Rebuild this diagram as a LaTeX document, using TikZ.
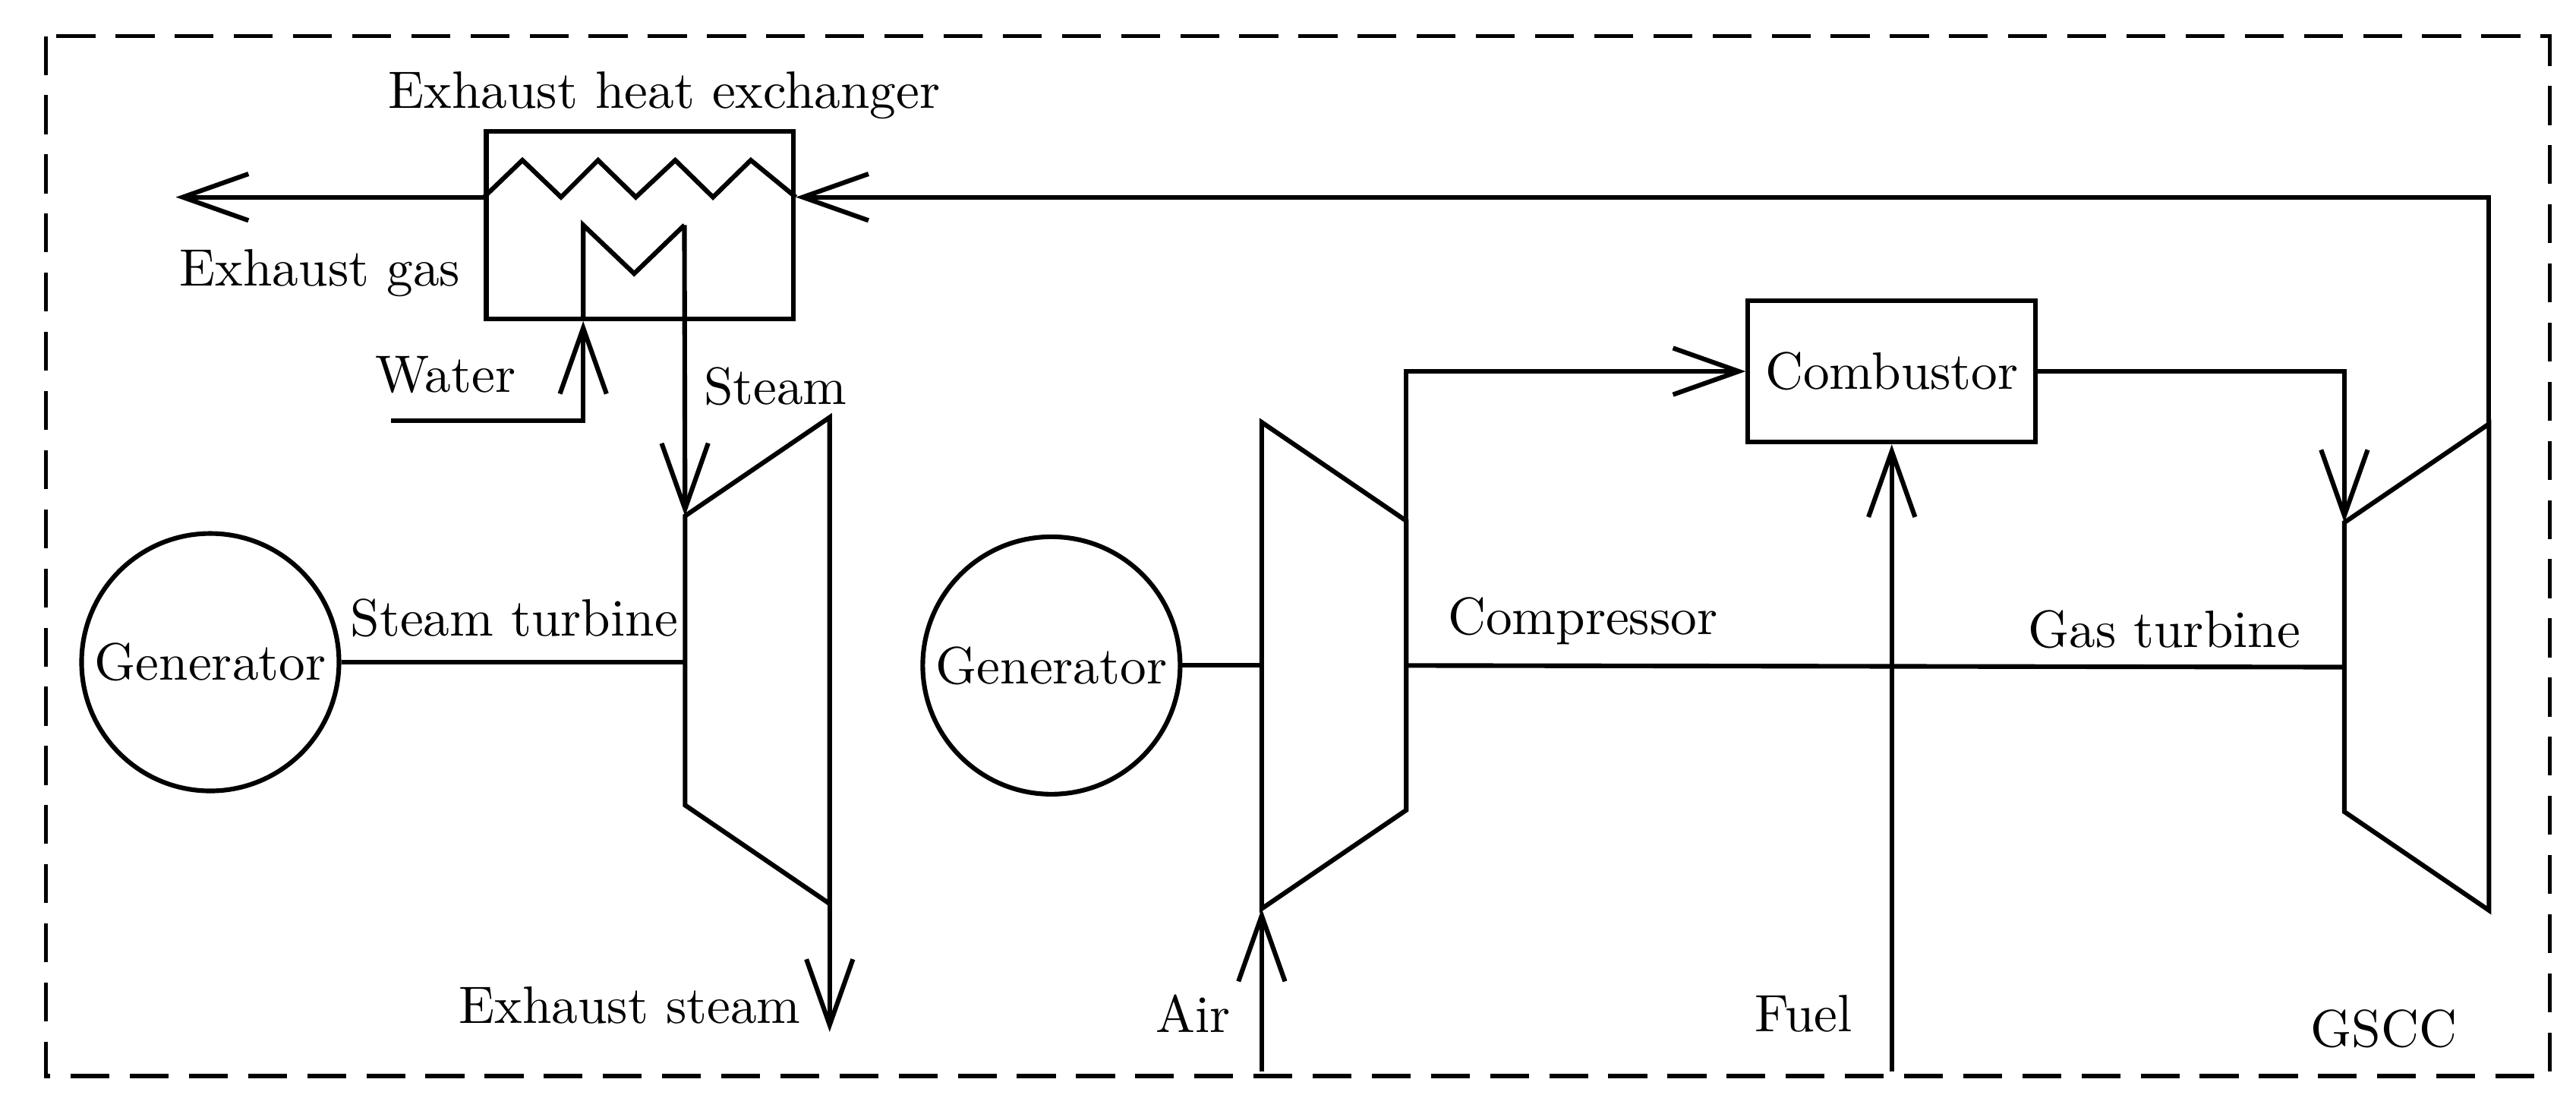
\documentclass[tikz,border=0pt]{standalone}
\usepackage{tikz}
\usetikzlibrary{positioning}
\usetikzlibrary{arrows.meta}
\tikzset{
    turbine/.pic={
		\draw (0,-88) -- (88,-148) -- (88,148) -- (0,88) -- cycle;
		\coordinate (-shaft) at (0,0);
		\coordinate (-back) at (88,0);
		\coordinate (-smalltop) at (0,-88);
		\coordinate (-bigtop) at (88,-148);
		\coordinate (-smallbot) at (0,88);
		\coordinate (-bigbot) at (88,148);
	}
}
\tikzset{
    generator/.style={draw, circle, minimum size=47pt, inner sep=0pt},
    label/.style={anchor=west, inner sep=0pt},
    flow/.style={->},
    >={Straight Barb[length=12pt,width=8.5pt]}
}

\begin{document}
\begin{tikzpicture}[x=0.3pt, y=-0.3pt, line width=0.85pt, line join=miter, every node/.style={font=\fontsize{9.6}{11}\selectfont}]
        \useasboundingbox (0,0) rectangle (1568,677.5);
        \draw[line width=0.8pt, dash pattern=on 7.1pt off 3.7pt] (28,22) rectangle (1552,655);
        % heat exchanger
        \node[draw, minimum width=56.1pt, minimum height=34.2pt, inner sep=0pt] (hx) at (389.5,137) {};
        \coordinate (gasout) at (hx.west |- 0,120);
        \coordinate (gasin) at (hx.east |- 0,120);
        \draw (gasout) -- (318,97.5) -- (341.5,120) -- (364,97.5) -- (387,120) -- (411,97.5) -- (434,120) -- (457,97.5) -- (gasin);
        \coordinate (coilin) at (355,137);
        \coordinate (coilout) at (416.6,137);
        \draw (coilin |- hx.south) -- (coilin) -- (386,166.5) -- (coilout);
        % steam side
        \pic (st) at (417,402) {turbine};
        \node[generator] (gen1) at (128,403) {Generator};
        \draw (gen1) -- (gen1 -| st-shaft);
        \coordinate (water) at (238,256);
        \draw[flow] (water) -| (coilin |- hx.south);
        \draw[flow] (coilout) -- (st-smalltop);
        \coordinate (exsteam) at (st-bigbot |- 0,628);
        \draw[flow] (st-bigbot) -- (exsteam);
        \coordinate (exgas) at (107,120);
        \draw[flow] (gasout) -- (exgas);
        % gas side
        \pic[xscale=-1] (comp) at (856,405) {turbine};
        \pic (gt) at (1427,406) {turbine};
        \node[generator] (gen2) at (640,405) {Generator};
        \draw (gen2) -- (comp-back);
        \draw (comp-shaft) -- (gt-shaft);
        \node[draw, minimum width=52.5pt, minimum height=25.8pt, inner sep=0pt] (comb) at (1151.5,226) {Combustor};
        \draw[flow] (comp-smalltop) |- (comb.west);
        \draw[flow] (comb.east) -| (gt-smalltop);
        \draw[flow] (gt-bigtop) |- (gasin);
        \coordinate (air) at (comp-bigbot |- 0,652);
        \draw[flow] (air) -- (comp-bigbot);
        \coordinate (fuel) at (comb.south |- 0,652);
        \draw[flow] (fuel) -- (comb.south);
        % labels
        \node[label] (hxlabel) at (235,58) {Exhaust heat exchanger};
        \node[label] (gaslabel) at (108,166) {Exhaust gas};
        \node[label] (waterlabel) at (227,228) {Water};
        \node[label] (steamlabel) at (427,235) {Steam};
        \node[label] (stlabel) at (212,376) {Steam turbine};
        \node[label] (complabel) at (880,378) {Compressor};
        \node[label] (gtlabel) at (1233,383) {Gas turbine};
        \node[label] (exlabel) at (278,612) {Exhaust steam};
        \node[label] (airlabel) at (702,617) {Air};
        \node[label] (fuellabel) at (1067,617) {Fuel};
        \node[label] (gscc) at (1405,626) {GSCC};
\end{tikzpicture}
\end{document}
